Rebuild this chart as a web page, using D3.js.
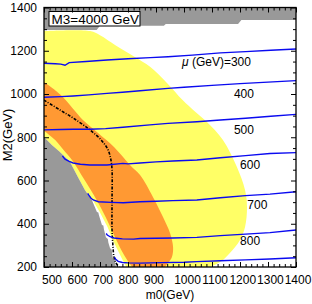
<!DOCTYPE html>
<html>
<head>
<meta charset="utf-8">
<script src="https://cdn.jsdelivr.net/npm/d3@7"></script>
<style>
body { margin: 0; background: white; }
text { font-family: "Liberation Sans", Arial, sans-serif; }
</style>
</head>
<body>
<svg></svg>
<script>
// axis ticks
var m0Ticks = [500, 600, 700, 800, 900, 1000, 1100, 1200, 1300, 1400];
var m2Ticks = [200, 400, 600, 800, 1000, 1200, 1400];

// mu contours, [m0, M2]
var mu300 = [[500,1142],[540,1140],[560,1138],[575,1133],[590,1145],[650,1150],[725,1157],[800,1163],[880,1168],[943,1172],[1030,1180],[1130,1190],[1220,1196],[1310,1202],[1400,1208]];
var mu400 = [[500,985],[560,988],[604,991],[660,996],[725,1003],[780,1008],[843,1015],[943,1026],[1000,1031],[1100,1040],[1200,1048],[1300,1055],[1400,1062]];
var mu500 = [[500,834],[560,836],[604,837],[664,837],[720,840],[782,846],[878,857],[943,864],[1046,872],[1130,880],[1220,888],[1310,897],[1400,906]];
var mu600 = [[566,714],[569,708],[575,699],[590,688],[604,681],[630,675],[664,672],[725,672],[782,679],[800,677],[843,681],[900,686],[960,690],[1046,695],[1130,705],[1220,715],[1307,725],[1400,729]];
var mu700 = [[656,540],[660,532],[668,518],[676,510],[694,502],[740,499],[783,497],[843,502],[900,504],[960,507],[1046,510],[1130,520],[1220,530],[1307,537],[1400,548]];
var mu800 = [[722,355],[726,348],[736,340],[750,334],[780,330],[820,329],[843,332],[900,333],[960,334],[1046,337],[1130,345],[1220,352],[1307,359],[1400,371]];
var mu900 = [[752,245],[756,236],[765,226],[780,221],[800,219],[843,218],[920,220],[1000,222],[1045,225],[1130,229],[1220,233],[1307,237],[1400,243]];
var muLines = [mu300, mu400, mu500, mu600, mu700, mu800, mu900];

var muLabelText = ["300", "400", "500", "600", "700", "800"];
var muLabelM0 = [1116, 1214, 1214, 1236, 1262, 1236];
var muLabelM2 = [1149, 1003, 834, 672, 487, 322];

// regions
var yellowEdge = [[500,1291],[665,1291],[700,1272],[755,1226],[820,1175],[880,1125],[940,1050],[995,972],[1040,918],[1082,870],[1139,787],[1189,662],[1218,556],[1225,477],[1218,385],[1200,325],[1164,265],[1129,223],[1093,200]];
var yellowInner = [[500,801],[528,764],[557,732],[593,686],[621,616],[646,556],[675,508],[700,452],[727,385],[748,318],[766,270],[784,224],[794,200]];
var orangeRight = [[500,1055],[560,995],[639,880],[693,820],[750,755],[807,672],[843,625],[889,524],[925,431],[950,357],[961,292],[957,246],[943,218],[932,200]];
var orangeLeft = [[815,200],[797,232],[776,279],[750,348],[720,431],[688,510],[645,602],[600,695],[570,741],[540,787],[500,830]];
var grayEdge = [[500,801],[528,764],[557,732],[593,686],[621,616],[646,556],[671,510],[689,454],[694,452],[696,440],[707,394],[712,392],[714,375],[721,338],[728,330],[730,312],[736,287],[742,280],[743,262],[746,242],[752,236],[754,220],[757,200]];
var grayTop = [[500,1296],[688,1296],[700,1316],[928,1316],[935,1324],[1193,1324],[1205,1342],[1400,1342],[1400,1400],[500,1400]];
var dashDot = [[500,972],[557,926],[604,889],[664,834],[707,783],[729,741],[739,695],[743,649],[743,510],[743,371],[746,302],[750,246],[757,219],[768,200]];

var svgWidth = 312, svgHeight = 304;

var svg = d3.select("svg")
    .attr("width", svgWidth)
    .attr("height", svgHeight);

var xScale = d3.scaleLinear()
    .domain([500, 1400])
    .range([44, 296]);

var yScale = d3.scaleLinear()
    .domain([200, 1400])
    .range([267, 7.5]);

svg.append("clipPath")
    .attr("id", "plotclip")
    .append("rect")
    .attr("x", 44).attr("y", 7.5)
    .attr("width", 252).attr("height", 259.5);

var plot = svg.append("g").attr("clip-path", "url(#plotclip)");

var smooth = d3.line()
    .x(function(d) { return xScale(d[0]); })
    .y(function(d) { return yScale(d[1]); })
    .curve(d3.curveCatmullRom);

var straight = d3.line()
    .x(function(d) { return xScale(d[0]); })
    .y(function(d) { return yScale(d[1]); });

var corner = function(m0, m2) { return "L" + xScale(m0) + "," + yScale(m2); };

// yellow band
plot.append("path")
    .attr("d", smooth(yellowEdge) + corner(500, 200) + "Z")
    .attr("fill", "#ffff66");

// white strip next to excluded region
plot.append("path")
    .attr("d", straight(yellowInner) + corner(500, 200) + "Z")
    .attr("fill", "white");

// orange band
plot.append("path")
    .attr("d", smooth(orangeRight) + smooth(orangeLeft).replace(/^M/, "L") + "Z")
    .attr("fill", "#ff9933");

// excluded regions
plot.append("path")
    .attr("d", straight(grayEdge) + corner(500, 200) + "Z")
    .attr("fill", "#999999");

plot.append("path")
    .attr("d", straight(grayTop) + "Z")
    .attr("fill", "#999999");

// dash-dot line
plot.append("path")
    .attr("d", smooth(dashDot))
    .attr("fill", "none")
    .attr("stroke", "black")
    .attr("stroke-width", 1.6)
    .attr("stroke-dasharray", "3,1.5,1,1.5");

// mu contours
plot.selectAll(".mu")
    .data(muLines)
    .enter()
    .append("path")
    .attr("class", "mu")
    .attr("d", straight)
    .attr("fill", "none")
    .attr("stroke", "#0a0af0")
    .attr("stroke-width", 1.4);

var labels = svg.selectAll(".mulabel")
    .data(muLabelText)
    .enter()
    .append("text")
    .attr("class", "mulabel")
    .attr("x", function(d, i) { return xScale(muLabelM0[i]); })
    .attr("y", function(d, i) { return yScale(muLabelM2[i]); })
    .attr("dy", "0.35em")
    .attr("text-anchor", "middle")
    .style("font-size", "12px");

labels.filter(function(d, i) { return i == 0; })
    .each(function(d) {
        var t = d3.select(this);
        t.append("tspan").style("font-style", "italic").text("\u03bc");
        t.append("tspan").text(" (GeV)=" + d);
    });
labels.filter(function(d, i) { return i > 0; })
    .text(function(d) { return d; });

// title box
svg.append("rect")
    .attr("x", 49).attr("y", 11.5)
    .attr("width", 91).attr("height", 14.5)
    .attr("fill", "white")
    .attr("stroke", "black")
    .attr("stroke-width", 1);

svg.append("text")
    .attr("x", 51.5).attr("y", 23.5)
    .style("font-size", "13.5px")
    .text("M3=4000 GeV");

// axes
var minorX = d3.range(500, 1401, 20).filter(function(v) { return v % 100 != 0; });
var minorY = d3.range(200, 1401, 50).filter(function(v) { return v % 200 != 0; });
var labelShift = d3.scaleLinear().domain([500, 900, 1000, 1400]).range([7.5, -2.5, 3, 1.5]);
var fmt = d3.format("d");

var xAxis = svg.append("g")
    .attr("transform", "translate(0,267)")
    .call(d3.axisBottom(xScale).tickValues(m0Ticks).tickFormat(fmt).tickSizeInner(-5).tickSizeOuter(0).tickPadding(8));
xAxis.selectAll("text").attr("dx", function(d) { return labelShift(d); });

svg.append("g")
    .attr("transform", "translate(0,267)")
    .call(d3.axisBottom(xScale).tickValues(minorX).tickSizeInner(-3).tickSizeOuter(0).tickFormat(""));

svg.append("g")
    .attr("transform", "translate(0,7.5)")
    .call(d3.axisTop(xScale).tickValues(m0Ticks).tickSizeInner(-5).tickSizeOuter(0).tickFormat(""));
svg.append("g")
    .attr("transform", "translate(0,7.5)")
    .call(d3.axisTop(xScale).tickValues(minorX).tickSizeInner(-3).tickSizeOuter(0).tickFormat(""));

svg.append("g")
    .attr("transform", "translate(44,0)")
    .call(d3.axisLeft(yScale).tickValues(m2Ticks).tickFormat(fmt).tickSizeInner(-5).tickSizeOuter(0).tickPadding(7));
svg.append("g")
    .attr("transform", "translate(44,0)")
    .call(d3.axisLeft(yScale).tickValues(minorY).tickSizeInner(-3).tickSizeOuter(0).tickFormat(""));

svg.append("g")
    .attr("transform", "translate(296,0)")
    .call(d3.axisRight(yScale).tickValues(m2Ticks).tickSizeInner(-5).tickSizeOuter(0).tickFormat(""));
svg.append("g")
    .attr("transform", "translate(296,0)")
    .call(d3.axisRight(yScale).tickValues(minorY).tickSizeInner(-3).tickSizeOuter(0).tickFormat(""));

svg.selectAll(".domain").remove();
svg.selectAll(".tick text")
    .style("font-size", "12px")
    .style("font-family", "'Liberation Sans', Arial, sans-serif")
    .attr("fill", "black");

svg.append("rect")
    .attr("x", 44).attr("y", 7.5)
    .attr("width", 252).attr("height", 259.5)
    .attr("fill", "none")
    .attr("stroke", "black")
    .attr("stroke-width", 1.3);

// axis titles
svg.append("text")
    .attr("x", 170).attr("y", 299)
    .attr("text-anchor", "middle")
    .style("font-size", "12px")
    .text("m0(GeV)");

svg.append("text")
    .attr("transform", "translate(12,135) rotate(-90)")
    .attr("text-anchor", "middle")
    .style("font-size", "13px")
    .text("M2(GeV)");
</script>
</body>
</html>
